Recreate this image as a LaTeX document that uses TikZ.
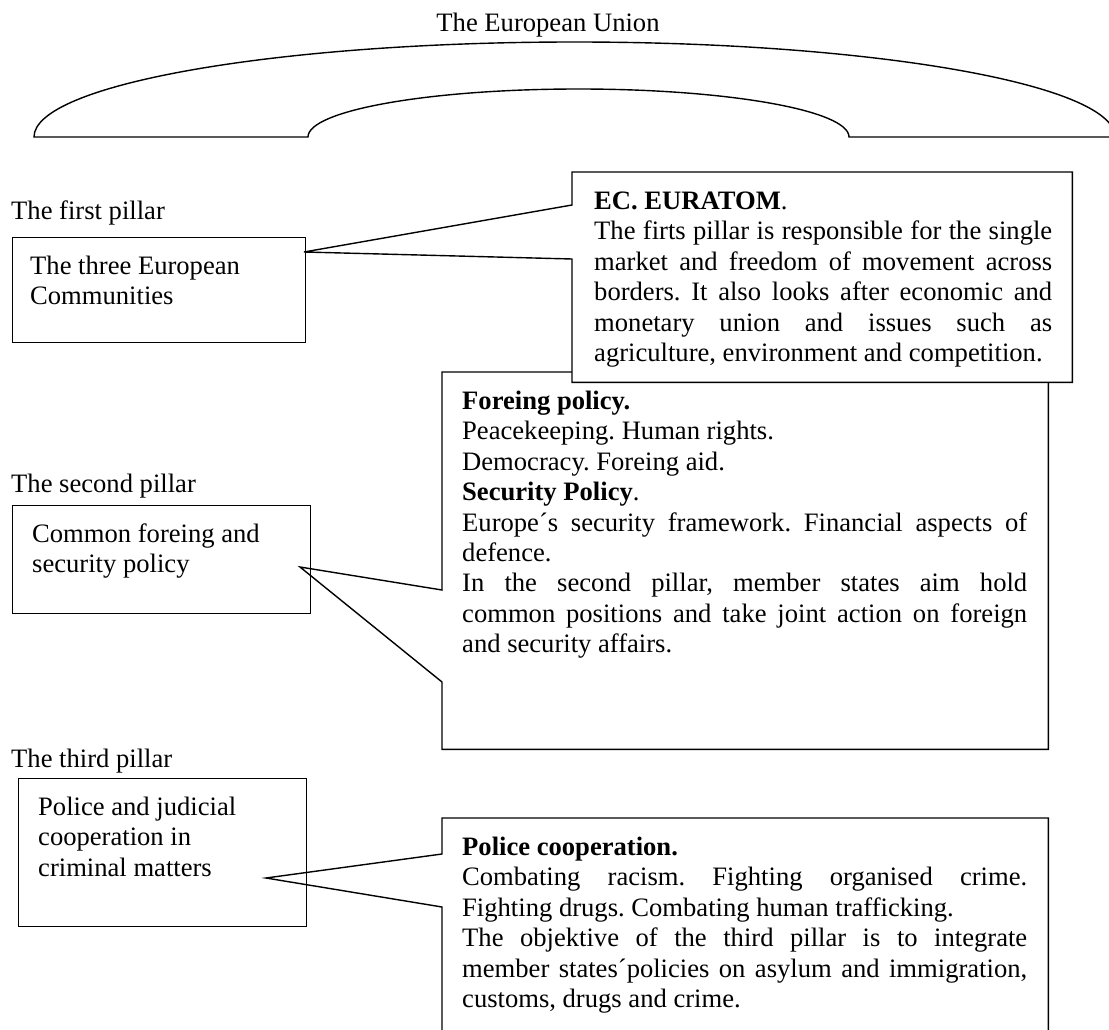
\documentclass[tikz,border=0pt]{standalone}
\usepackage{fontspec}
\setmainfont{Liberation Serif}
\usetikzlibrary{positioning}
\frenchspacing
\tikzset{
	every node/.style={inner sep=0pt},
	pillarfont/.style={font=\fontsize{26.6}{30.4}\selectfont\frenchspacing},
	pillarbox/.style={draw,line width=1.4pt,anchor=north west},
	calloutbox/.style={anchor=north west},
	boxtext/.style={pillarfont,align=left,anchor=north west},
	callouttext/.style={pillarfont,align=justify,anchor=north west},
	outline/.style={line width=1.4pt,line join=miter}
}
\begin{document}
\begin{tikzpicture}[x=1pt,y=-1pt]
			\useasboundingbox (0,0) rectangle (1109,1030);
			% the union
			\node[pillarfont,anchor=base] (union) at (548,32) {The European Union};
			\draw[outline] (34,137) arc[start angle=180,end angle=0,x radius=540.5pt,y radius=95pt] -- (849,137)
				arc[start angle=0,end angle=180,x radius=270.5pt,y radius=48pt] -- cycle;
			% pillar labels
			\foreach \name/\y/\label in {first/219/The first pillar,second/492/The second pillar,third/767/The third pillar}
				\node[pillarfont,anchor=base west] (\name) at (11,\y) {\label};
			% pillar boxes
			\node[pillarbox,minimum width=293pt,minimum height=105pt] (firstbox) at (12,237) {};
			\node[boxtext] (firsttext) at ([xshift=18pt,yshift=-16pt]firstbox.north west) {\strut The three European\\Communities};
			\node[pillarbox,minimum width=298pt,minimum height=108pt] (secondbox) at (12,505) {};
			\node[boxtext] (secondtext) at ([xshift=20pt,yshift=-16pt]secondbox.north west) {\strut Common foreing and\\security policy};
			\node[pillarbox,minimum width=288pt,minimum height=148pt] (thirdbox) at (18,778) {};
			\node[boxtext] (thirdtext) at ([xshift=20pt,yshift=-16pt]thirdbox.north west) {\strut Police and judicial\\cooperation in\\criminal matters};
			% second pillar callout
			\node[calloutbox,minimum width=606pt,minimum height=377pt] (cfsp) at (442,372) {};
			\coordinate (cfsptip) at (300,567);
			\draw[outline] (cfsptip) -- ([yshift=-218pt]cfsp.north west) -- (cfsp.north west) -- (cfsp.north east)
				-- (cfsp.south east) -- (cfsp.south west) -- ([yshift=-310pt]cfsp.north west) -- cycle;
			\node[callouttext,text width=565pt] (cfsptext) at ([xshift=20pt,yshift=-16pt]cfsp.north west)
				{\strut\textbf{Foreing policy.}\\
				Peacekeeping. Human rights.\\
				Democracy. Foreing aid.\\
				\textbf{Security Policy}.\\
				Europe´s security framework. Financial aspects of\linebreak defence.\\
				In the second pillar, member states aim hold\linebreak common positions and take joint action on foreign\linebreak and security affairs.};
			% first pillar callout, on top
			\node[calloutbox,minimum width=500pt,minimum height=210pt] (ec) at (572,172) {};
			\coordinate (ectip) at (304,252);
			\draw[outline,fill=white] (ectip) -- ([yshift=-33pt]ec.north west) -- (ec.north west) -- (ec.north east)
				-- (ec.south east) -- (ec.south west) -- ([yshift=-87pt]ec.north west) -- cycle;
			\node[callouttext,text width=458pt] (ectext) at ([xshift=22pt,yshift=-16pt]ec.north west)
				{\strut\textbf{EC. EURATOM}.\\
				The firts pillar is responsible for the single\linebreak market and freedom of movement across\linebreak borders. It also looks after economic and\linebreak monetary union and issues such as\linebreak agriculture, environment and competition.};
			% third pillar callout
			\node[calloutbox,minimum width=606pt,minimum height=240pt] (jha) at (442,818) {};
			\coordinate (jhatip) at (266,878);
			\draw[outline] (jhatip) -- ([yshift=-36pt]jha.north west) -- (jha.north west) -- (jha.north east)
				-- (jha.south east) -- (jha.south west) -- ([yshift=-89pt]jha.north west) -- cycle;
			\node[callouttext,text width=565pt] (jhatext) at ([xshift=20pt,yshift=-16pt]jha.north west)
				{\strut\textbf{Police cooperation.}\\
				Combating racism. Fighting organised crime.\linebreak Fighting drugs. Combating human trafficking.\\
				The objektive of the third pillar is to integrate\linebreak member states´policies on asylum and immigration,\linebreak customs, drugs and crime.};
\end{tikzpicture}
\end{document}
